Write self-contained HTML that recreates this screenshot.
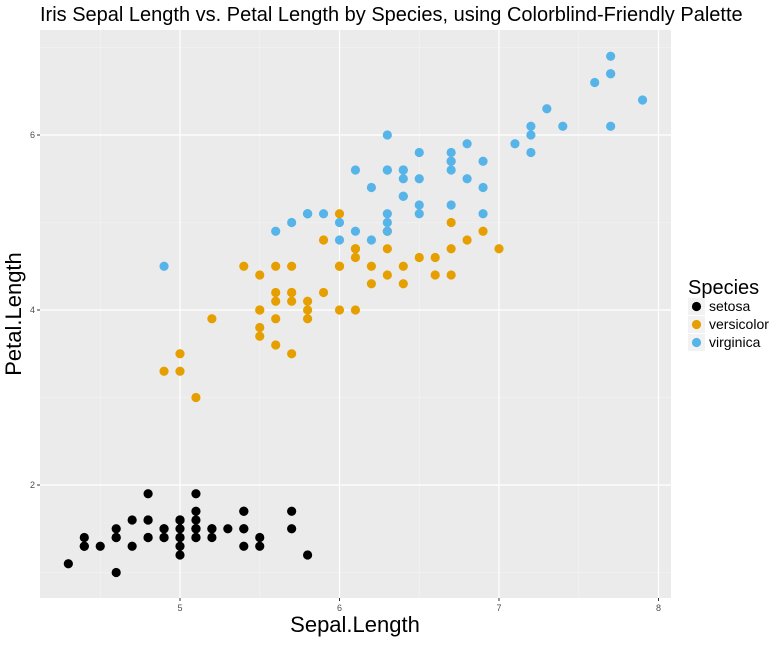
<!DOCTYPE html>
<html><head><meta charset="utf-8"><style>
body{margin:0;background:#fff;font-family:"Liberation Sans",sans-serif}
svg text{font-family:"Liberation Sans",sans-serif}
</style></head><body>
<svg width="780" height="640">
<text x="40" y="21" font-size="20" fill="#000">Iris Sepal Length vs. Petal Length by Species, using Colorblind-Friendly Palette</text>
<rect x="40" y="30" width="631" height="568" fill="#ebebeb"/>
<g id="grid"></g>
<g id="pts"></g>
<g id="ticks"></g>
<text x="355" y="632" font-size="22" text-anchor="middle">Sepal.Length</text>
<text transform="translate(21,314) rotate(-90)" font-size="22" text-anchor="middle">Petal.Length</text>
<g>
<text x="688" y="294" font-size="20">Species</text>
<g id="leg"></g>
</g>
</svg>
<script>
const species=["setosa","versicolor","virginica"];
const colors=["#000000","#E69F00","#56B4E9"];
const sepal=[
[5.1,4.9,4.7,4.6,5.0,5.4,4.6,5.0,4.4,4.9,5.4,4.8,4.8,4.3,5.8,5.7,5.4,5.1,5.7,5.1,5.4,5.1,4.6,5.1,4.8,5.0,5.0,5.2,5.2,4.7,4.8,5.4,5.2,5.5,4.9,5.0,5.5,4.9,4.4,5.1,5.0,4.5,4.4,5.0,5.1,4.8,5.1,4.6,5.3,5.0],
[7.0,6.4,6.9,5.5,6.5,5.7,6.3,4.9,6.6,5.2,5.0,5.9,6.0,6.1,5.6,6.7,5.6,5.8,6.2,5.6,5.9,6.1,6.3,6.1,6.4,6.6,6.8,6.7,6.0,5.7,5.5,5.5,5.8,6.0,5.4,6.0,6.7,6.3,5.6,5.5,5.5,6.1,5.8,5.0,5.6,5.7,5.7,6.2,5.1,5.7],
[6.3,5.8,7.1,6.3,6.5,7.6,4.9,7.3,6.7,7.2,6.5,6.4,6.8,5.7,5.8,6.4,6.5,7.7,7.7,6.0,6.9,5.6,7.7,6.3,6.7,7.2,6.2,6.1,6.4,7.2,7.4,7.9,6.4,6.3,6.1,7.7,6.3,6.4,6.0,6.9,6.7,6.9,5.8,6.8,6.7,6.7,6.3,6.5,6.2,5.9]];
const petal=[
[1.4,1.4,1.3,1.5,1.4,1.7,1.4,1.5,1.4,1.5,1.5,1.6,1.4,1.1,1.2,1.5,1.3,1.4,1.7,1.5,1.7,1.5,1.0,1.7,1.9,1.6,1.6,1.5,1.4,1.6,1.6,1.5,1.5,1.4,1.5,1.2,1.3,1.4,1.3,1.5,1.3,1.3,1.3,1.6,1.9,1.4,1.6,1.4,1.5,1.4],
[4.7,4.5,4.9,4.0,4.6,4.5,4.7,3.3,4.6,3.9,3.5,4.2,4.0,4.7,3.6,4.4,4.5,4.1,4.5,3.9,4.8,4.0,4.9,4.7,4.3,4.4,4.8,5.0,4.5,3.5,3.8,3.7,3.9,5.1,4.5,4.5,4.7,4.4,4.1,4.0,4.4,4.6,4.0,3.3,4.2,4.2,4.2,4.3,3.0,4.1],
[6.0,5.1,5.9,5.6,5.8,6.6,4.5,6.3,5.8,6.1,5.1,5.3,5.5,5.0,5.1,5.3,5.5,6.7,6.9,5.0,5.7,4.9,6.7,4.9,5.7,6.0,4.8,4.9,5.6,5.8,6.1,6.4,5.6,5.1,5.6,6.1,5.6,5.5,4.8,5.4,5.6,5.1,5.1,5.9,5.7,5.2,5.0,5.2,5.4,5.1]];
const xTicks=[5,6,7,8], yTicks=[2,4,6];
const xMinor=[4.5,5.5,6.5,7.5], yMinor=[1,3,5,7];
const X=v=>180+(v-5)*159.5, Y=v=>485-(v-2)*87.5;
const NS="http://www.w3.org/2000/svg";
function mk(tag,attrs,parent){const e=document.createElementNS(NS,tag);for(const k in attrs)e.setAttribute(k,attrs[k]);parent.appendChild(e);return e;}
const grid=document.getElementById('grid'),pts=document.getElementById('pts'),tk=document.getElementById('ticks'),leg=document.getElementById('leg');
xMinor.forEach(v=>{const l=mk('line',{x1:X(v),x2:X(v),y1:30,y2:598,stroke:'#f5f5f5','stroke-width':0.6},grid);

});
yMinor.forEach(v=>{const l=mk('line',{x1:40,x2:671,y1:Y(v),y2:Y(v),stroke:'#f5f5f5','stroke-width':0.6},grid);

});
xTicks.forEach(v=>{const l=mk('line',{x1:X(v),x2:X(v),y1:30,y2:598,stroke:'#fff','stroke-width':1.2},grid);


const t=mk('line',{x1:X(v),x2:X(v),y1:598,y2:601,stroke:'#333'},tk);


const tx=mk('text',{x:X(v),y:611,'font-size':9,fill:'#4d4d4d','text-anchor':'middle'},tk);tx.textContent=v;

});
yTicks.forEach(v=>{const l=mk('line',{x1:40,x2:671,y1:Y(v),y2:Y(v),stroke:'#fff','stroke-width':1.2},grid);


const t=mk('line',{x1:37,x2:40,y1:Y(v),y2:Y(v),stroke:'#333'},tk);


const tx=mk('text',{x:35,y:Y(v)+3,'font-size':9,fill:'#4d4d4d','text-anchor':'end'},tk);tx.textContent=v;

});
species.forEach((s,i)=>{
 sepal[i].forEach((x,j)=>{const c=mk('circle',{cx:X(x),cy:Y(petal[i][j]),r:4.6,fill:colors[i]},pts);
 
 });
 const y0=298+i*18;
 const r=mk('rect',{x:688,y:y0,width:17,height:17,fill:'#f2f2f2'},leg);
 
 
 const c=mk('circle',{cx:696.5,cy:y0+8.5,r:4.6,fill:colors[i]},leg);
 
 
 const t=mk('text',{x:709,y:y0+13,'font-size':14},leg);t.textContent=s;
 
 
});
</script>
</body></html>
